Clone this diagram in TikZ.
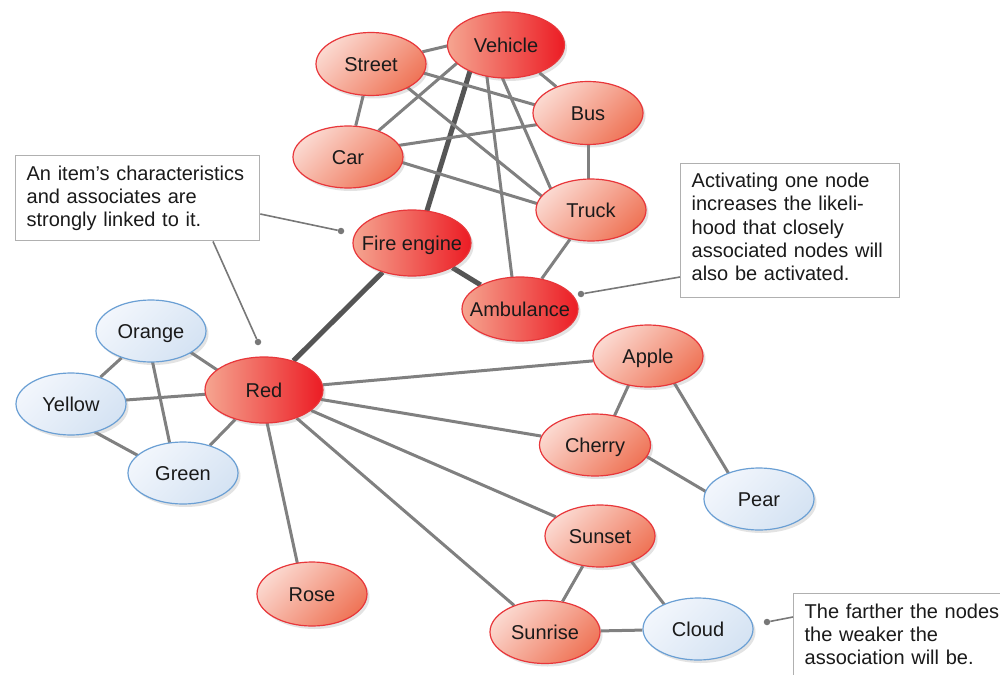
\documentclass[tikz,border=0pt]{standalone}
\usepackage{fontspec}
\setmainfont{Liberation Sans}
\usetikzlibrary{shapes.geometric,shadows,backgrounds}
\definecolor{txt}{HTML}{1A1A1A}
\definecolor{redline}{HTML}{E8363A}
\definecolor{hotL}{HTML}{F5A590}
\definecolor{hotR}{HTML}{EC1C24}
\definecolor{warmL}{HTML}{FBD8CF}
\definecolor{warmR}{HTML}{EF7558}
\definecolor{blueline}{HTML}{6A9FD4}
\definecolor{coolL}{HTML}{F2F6FC}
\definecolor{coolR}{HTML}{D5E3F3}
\definecolor{edgec}{HTML}{808080}
\definecolor{edgedark}{HTML}{555555}
\definecolor{boxline}{HTML}{B0B0B0}
\definecolor{leadc}{HTML}{787878}
\newcommand\ntext[1]{\makebox[0pt]{#1}}
\begin{document}
\begin{tikzpicture}[x=1pt,y=-1pt,
  base/.style={ellipse, inner sep=0pt, text height=15pt, text depth=0pt,
    font=\fontsize{20}{24}\selectfont, text=txt, line width=1.2pt,
    drop shadow={shadow xshift=2.5pt, shadow yshift=-3pt, opacity=0.22}},
  hot/.style={base, draw=redline, left color=hotL, right color=hotR,
    minimum width=118pt, minimum height=66pt},
  warm/.style={base, draw=redline, top color=warmL, bottom color=warmR,
    shading angle=45, minimum width=110pt, minimum height=62pt},
  cool/.style={base, draw=blueline, top color=coolL, bottom color=coolR,
    shading angle=45, minimum width=110pt, minimum height=62pt},
  link/.style={draw=edgec, line width=3pt},
  strong/.style={draw=edgedark, line width=5pt},
  callout/.style={draw=boxline, line width=1.3pt, fill=white, anchor=north west,
    inner xsep=11pt, inner ysep=10pt, align=left,
    font=\fontsize{20}{23.25}\selectfont, text=txt},
  leader/.style={draw=leadc, line width=1.6pt},
  dotc/.style={circle, fill=leadc, inner sep=0pt, minimum size=6.5pt}]
\useasboundingbox (0,0) rectangle (1000,674);
\clip (0,0) rectangle (1000,674);

% nodes
\node[hot, minimum width=117pt] (veh) at (506,45) {\ntext{Vehicle}};
\node[warm, minimum height=63pt] (str) at (371,64) {\ntext{Street}};
\node[warm, minimum height=63pt] (bus) at (588,113) {\ntext{Bus}};
\node[warm] (car) at (348,157) {\ntext{Car}};
\node[warm] (trk) at (591,210) {\ntext{Truck}};
\node[hot] (fire) at (412,243) {\ntext{Fire engine}};
\node[hot, minimum width=116pt, minimum height=64pt] (amb) at (520,309) {\ntext{Ambulance}};
\node[hot] (red) at (264,390) {\ntext{Red}};
\node[cool] (ora) at (151,331) {\ntext{Orange}};
\node[cool] (yel) at (71,404) {\ntext{Yellow}};
\node[cool] (gre) at (183,473) {\ntext{Green}};
\node[warm] (app) at (648,356) {\ntext{Apple}};
\node[warm, minimum width=111pt] (che) at (595,445) {\ntext{Cherry}};
\node[cool] (pea) at (759,499) {\ntext{Pear}};
\node[warm] (sst) at (600,536) {\ntext{Sunset}};
\node[warm, minimum height=64pt] (ros) at (312,594) {\ntext{Rose}};
\node[warm, minimum height=63pt] (srs) at (545,632) {\ntext{Sunrise}};
\node[cool] (cld) at (698,629) {\ntext{Cloud}};

% connectors
\begin{scope}[on background layer]
\fill[white] (0,0) rectangle (1000,674);
\draw[link] (str) -- ([yshift=13pt]veh.center);
\draw[link] ([xshift=-28pt]veh.center) -- (car);
\draw[strong] ([xshift=-28pt]veh.center) -- ([xshift=5pt]fire.center);
\draw[link] ([xshift=-23pt]veh.center) -- ([xshift=-4pt]amb.center);
\draw[link] ([xshift=-18pt]veh.center) -- ([xshift=-31pt]trk.center);
\draw[link] (veh) -- (bus);
\draw[link] (str) -- (car);
\draw[link] ([yshift=6pt]str.center) -- ([yshift=-7pt]bus.center);
\draw[link] ([yshift=6pt]str.center) -- ([xshift=-31pt,yshift=-1pt]trk.center);
\draw[link] ([yshift=4pt]car.center) -- ([yshift=-4pt]bus.center);
\draw[link] ([yshift=11pt]car.center) -- ([yshift=-10pt]trk.center);
\draw[link] (bus) -- ([xshift=-3pt]trk.center);
\draw[link] (trk) -- (amb);
\draw[strong] (fire) -- (amb);
\draw[strong] (fire) -- (red);
\draw[link] ([yshift=5pt]ora.center) -- ([yshift=-11pt]red.center);
\draw[link] (yel) -- (red);
\draw[link] (gre) -- (red);
\draw[link] (ora) -- (yel);
\draw[link] ([xshift=-5pt]ora.center) -- ([xshift=-7pt]gre.center);
\draw[link] ([yshift=-15pt]yel.center) -- ([yshift=-7pt]gre.center);
\draw[link] (red) -- (app);
\draw[link] (red) -- (che);
\draw[link] (red) -- (sst);
\draw[link] (red) -- (srs);
\draw[link] ([xshift=-4pt]red.center) -- ([xshift=-8pt]ros.center);
\draw[link] ([xshift=-6pt]app.center) -- ([xshift=6pt]che.center);
\draw[link] ([xshift=10pt]app.center) -- ([xshift=-15pt]pea.center);
\draw[link] ([yshift=19pt]che.center) -- ([yshift=-24pt]pea.center);
\draw[link] (sst) -- (srs);
\draw[link] ([xshift=12pt]sst.center) -- ([xshift=-15pt]cld.center);
\draw[link] (srs) -- (cld);
\end{scope}

% callouts
\node[callout, text width=222pt] (c1) at (15,155)
  {An item’s characteristics\\and associates are\\strongly linked to it.};
\node[callout, text width=197pt, inner ysep=9.5pt] (c2) at (680,163)
  {Activating one node\\increases the likeli-\\hood that closely\\associated nodes will\\also be activated.\rule[-7.5pt]{0pt}{7.5pt}};
\node[callout, text width=220pt] (c3) at (793,593)
  {The farther the nodes\\the weaker the\\association will be.\rule[-20pt]{0pt}{20pt}};

\node[dotc] (d1) at (341,231) {};
\node[dotc] (d2) at (258,342) {};
\node[dotc] (d3) at (581,294) {};
\node[dotc] (d4) at (767,622) {};
\draw[leader] ([yshift=-59pt]c1.north east) -- (d1);
\draw[leader] ([xshift=198pt]c1.south west) -- (d2);
\draw[leader] ([yshift=-114pt]c2.north west) -- (d3);
\draw[leader] ([yshift=-24pt]c3.north west) -- (d4);
\end{tikzpicture}
\end{document}
